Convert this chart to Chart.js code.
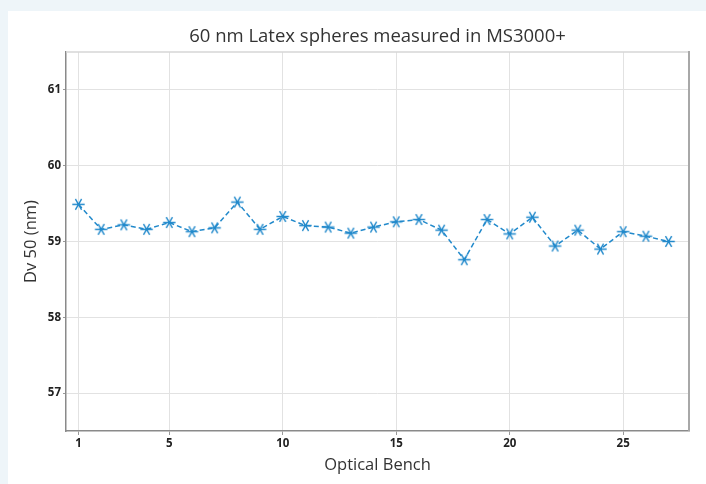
<!DOCTYPE html>
<html>
<head>
<meta charset="utf-8">
<script src="https://cdn.jsdelivr.net/npm/chart.js@4"></script>
<style>
  html, body { margin: 0; padding: 0; background: #eef5f9; }
  #panel { position: absolute; left: 8px; top: 11px; width: 698px; height: 473px; background: #fff; }
  #wrap { position: absolute; left: 0; top: 0; width: 706px; height: 484px; }
</style>
</head>
<body>
<div id="panel"></div>
<div id="wrap"><canvas id="myChart" width="706" height="484"></canvas></div>
<script>
let bench = [1, 2, 3, 4, 5, 6, 7, 8, 9, 10, 11, 12, 13, 14, 15, 16, 17, 18, 19, 20, 21, 22, 23, 24, 25, 26, 27]
let dv50 = [59.49, 59.16, 59.22, 59.16, 59.25, 59.13, 59.18, 59.52, 59.16, 59.33, 59.21, 59.19, 59.11, 59.19,
	59.26, 59.29, 59.15, 58.76, 59.29, 59.10, 59.32, 58.94, 59.15, 58.90, 59.13, 59.07, 59.00]
let xTicks = [1, 5, 10, 15, 20, 25]
let yTicks = [57, 58, 59, 60, 61]
let chartTitle = '60 nm Latex spheres measured in MS3000+'

const blue = '#2189cb'

// six-armed asterisk marker
function makeStar() {
	let c = document.createElement('canvas')
	c.width = 15
	c.height = 15
	let g = c.getContext('2d')
	g.strokeStyle = blue
	g.lineWidth = 1.4
	let r = 6.2
	g.beginPath()
	for (let a of [0, 60, 120]) {
		let rad = (a * Math.PI) / 180
		g.moveTo(7.5 - r * Math.cos(rad), 7.5 - r * Math.sin(rad))
		g.lineTo(7.5 + r * Math.cos(rad), 7.5 + r * Math.sin(rad))
	}
	g.stroke()
	return c
}

// box edges + title centred over the plot area
const boxPlugin = {
	id: 'box',
	afterDraw(chart) {
		let { ctx, chartArea: a } = chart
		ctx.save()
		ctx.strokeStyle = '#d6d6d6'
		ctx.lineWidth = 1.5
		ctx.beginPath()
		ctx.moveTo(a.left, a.top)
		ctx.lineTo(a.right, a.top)
		ctx.stroke()
		ctx.strokeStyle = '#a8a8a8'
		ctx.lineWidth = 2
		ctx.beginPath()
		ctx.moveTo(a.right, a.top - 1)
		ctx.lineTo(a.right, a.bottom)
		ctx.stroke()

		ctx.fillStyle = '#333'
		ctx.font = '18.5px "Open Sans"'
		ctx.textAlign = 'center'
		ctx.textBaseline = 'middle'
		ctx.fillText(chartTitle, (a.left + a.right) / 2, 37)
		ctx.restore()
	},
}

const tickFont = { family: 'Open Sans', size: 11.5, weight: 'bold' }
const titleFont = { family: 'Open Sans', size: 16.5 }

var ctx = document.getElementById('myChart').getContext('2d')
var myChart = new Chart(ctx, {
	type: 'line',
	data: {
		datasets: [
			{
				data: bench.map((b, i) => ({ x: b, y: dv50[i] })),
				borderColor: blue,
				borderWidth: 1.5,
				borderDash: [5, 3],
				pointStyle: makeStar(),
				pointRadius: 7,
				tension: 0,
			},
		],
	},
	options: {
		responsive: false,
		animation: false,
		layout: { padding: { left: 0, right: 17, top: 52, bottom: 0 } },
		plugins: {
			legend: { display: false },
			tooltip: { enabled: false },
			title: { display: false },
		},
		scales: {
			x: {
				type: 'linear',
				min: 0.45,
				max: 27.9,
				afterBuildTicks: (s) => (s.ticks = xTicks.map((v) => ({ value: v }))),
				afterFit: (s) => (s.height = 53),
				ticks: { color: '#222', font: tickFont, padding: 2, autoSkip: false, maxRotation: 0 },
				grid: { color: '#e2e2e2', tickColor: '#999', tickLength: 4 },
				border: { color: '#8a8a8a', width: 1.5 },
				title: { display: true, text: 'Optical Bench', color: '#333', font: titleFont, padding: { top: 0, bottom: 9 } },
			},
			y: {
				min: 56.5,
				max: 61.5,
				afterBuildTicks: (s) => (s.ticks = yTicks.map((v) => ({ value: v }))),
				afterFit: (s) => (s.width = 66),
				ticks: { color: '#222', font: tickFont, padding: 2 },
				grid: { color: '#e2e2e2', tickColor: '#999', tickLength: 3 },
				border: { color: '#8a8a8a', width: 1.5 },
				title: { display: true, text: 'Dv 50 (nm)', color: '#333', font: titleFont, padding: { top: 21, bottom: 0 } },
			},
		},
	},
	plugins: [boxPlugin],
})
</script>
</body>
</html>
